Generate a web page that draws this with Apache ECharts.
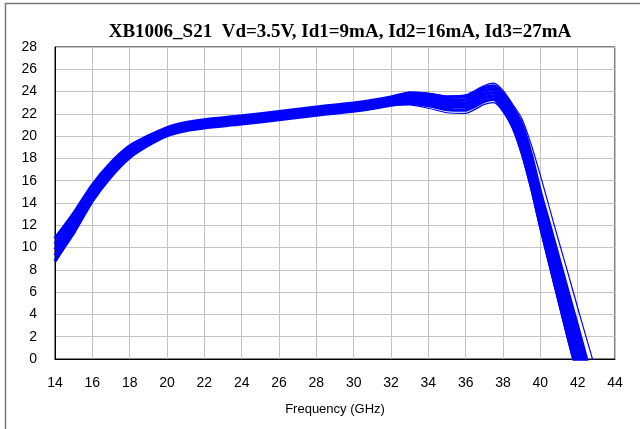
<!DOCTYPE html>
<html>
<head>
<meta charset="utf-8">
<script src="https://cdn.jsdelivr.net/npm/echarts@6/dist/echarts.min.js"></script>
<style>
  html, body { margin: 0; padding: 0; background: #fff; }
  #chart { width: 640px; height: 429px; }
</style>
</head>
<body>
<div id="chart"></div>
<script>
  // frequency points (GHz)
  var freq = [14, 14.5, 15, 16, 17, 18, 19, 20, 21, 22, 24, 26, 28, 30, 31, 32, 33, 34, 35, 36, 36.5, 37, 37.5, 38, 38.5, 39, 39.5, 40, 40.5, 41, 41.5, 42, 42.5, 43];

  var trace1 = [8.8, 10.1, 11.35, 14.2, 16.4, 18.1, 19.2, 20.05, 20.5, 20.75, 21.1, 21.5, 21.9, 22.25, 22.5, 22.8, 22.95, 22.75, 22.4, 22.35, 22.7, 23.15, 23.3, 22.4, 21.0, 18.7, 15.6, 12.0, 8.6, 5.25, 1.9, -1.3, -4.6, -7.8];
  var trace2 = [9.3, 10.55, 11.78, 14.55, 16.7, 18.35, 19.4, 20.23, 20.68, 20.93, 21.28, 21.68, 22.08, 22.43, 22.68, 22.98, 23.18, 23.0, 22.68, 22.65, 23.0, 23.45, 23.6, 22.75, 21.4, 19.3, 16.3, 12.75, 9.45, 6.18, 2.9, -0.25, -3.5, -6.7];
  var trace3 = [9.8, 11.0, 12.2, 14.9, 17.0, 18.6, 19.6, 20.4, 20.85, 21.1, 21.45, 21.85, 22.25, 22.6, 22.85, 23.15, 23.4, 23.25, 22.95, 22.95, 23.3, 23.75, 23.9, 23.1, 21.8, 19.9, 17.0, 13.5, 10.3, 7.1, 3.9, 0.8, -2.4, -5.6];
  var trace4 = [10.3, 11.45, 12.63, 15.25, 17.3, 18.85, 19.8, 20.58, 21.03, 21.28, 21.63, 22.03, 22.43, 22.78, 23.03, 23.33, 23.63, 23.5, 23.23, 23.25, 23.6, 24.05, 24.2, 23.45, 22.2, 20.5, 17.7, 14.25, 11.15, 8.03, 4.9, 1.85, -1.3, -4.5];
  var trace5 = [10.8, 11.9, 13.05, 15.6, 17.6, 19.1, 20.0, 20.75, 21.2, 21.45, 21.8, 22.2, 22.6, 22.95, 23.2, 23.5, 23.85, 23.75, 23.5, 23.55, 23.9, 24.35, 24.5, 23.8, 22.6, 21.1, 18.4, 15.0, 12.0, 8.95, 5.9, 2.9, -0.2, -3.4];
  // parts that stand apart from the bundle
  var trace6 = [10.8, 11.9, 13.05, 15.6, 17.6, 19.1, 20.0, 20.75, 21.2, 21.45, 21.8, 22.2, 22.6, 22.95, 23.2, 23.5, 23.95, 23.85, 23.6, 23.7, 24.1, 24.55, 24.75, 24.1, 22.9, 21.6, 19.3, 16.5, 13.5, 10.5, 7.6, 4.6, 1.7, -1.2];
  var trace7 = [8.8, 10.1, 11.35, 14.2, 16.4, 18.1, 19.2, 20.05, 20.5, 20.75, 21.1, 21.5, 21.9, 22.25, 22.5, 22.8, 22.8, 22.5, 22.1, 22.05, 22.4, 22.85, 23.0, 22.2, 20.7, 18.3, 15.2, 11.6, 8.2, 4.85, 1.5, -1.7, -5.0, -8.2];

  var bundle = [trace1, trace2, trace3, trace4, trace5];
  var strays = [trace6, trace7];

  var myChart = echarts.init(document.getElementById('chart'));

  function makeLine(t, width) {
    return {
      type: 'line',
      data: freq.map(function (f, i) { return [f, t[i]]; }),
      showSymbol: false,
      smooth: 0.25,
      silent: true,
      clip: true,
      lineStyle: { color: '#0000ff', width: width }
    };
  }

  var series = bundle.map(function (t) { return makeLine(t, 3.5); })
    .concat(strays.map(function (t) { return makeLine(t, 1.2); }));

  myChart.setOption({
    animation: false,
    backgroundColor: '#fff',
    title: {
      text: 'XB1006_S21  Vd=3.5V, Id1=9mA, Id2=16mA, Id3=27mA',
      left: 335,
      textAlign: 'center',
      top: 18,
      textStyle: {
        fontFamily: 'Liberation Serif',
        fontWeight: 'bold',
        fontSize: 19,
        color: '#000'
      }
    },
    graphic: [{
      type: 'rect',
      shape: { x: 5.5, y: 3.5, width: 700, height: 500 },
      style: { fill: 'none', stroke: '#777', lineWidth: 1.5 },
      silent: true
    }],
    grid: {
      left: 55,
      right: 25,
      top: 47,
      bottom: 70,
      show: true,
      borderColor: '#000',
      borderWidth: 1
    },
    xAxis: {
      type: 'value',
      min: 14,
      max: 44,
      interval: 2,
      name: 'Frequency (GHz)',
      nameLocation: 'middle',
      nameGap: 44,
      nameTextStyle: { fontFamily: 'Liberation Sans', fontSize: 13, color: '#000' },
      axisLine: { show: true, lineStyle: { color: '#000', width: 1 } },
      axisTick: { show: false },
      axisLabel: { margin: 17, fontFamily: 'Liberation Sans', fontSize: 14, color: '#000' },
      splitLine: { show: true, lineStyle: { color: '#c4c4c4', width: 1 } }
    },
    yAxis: {
      type: 'value',
      min: 0,
      max: 28,
      interval: 2,
      axisLine: { show: true, lineStyle: { color: '#000', width: 1 } },
      axisTick: { show: false },
      axisLabel: { margin: 18, fontFamily: 'Liberation Sans', fontSize: 14, color: '#000' },
      splitLine: { show: true, lineStyle: { color: '#c4c4c4', width: 1 } }
    },
    series: series
  });
</script>
</body>
</html>
